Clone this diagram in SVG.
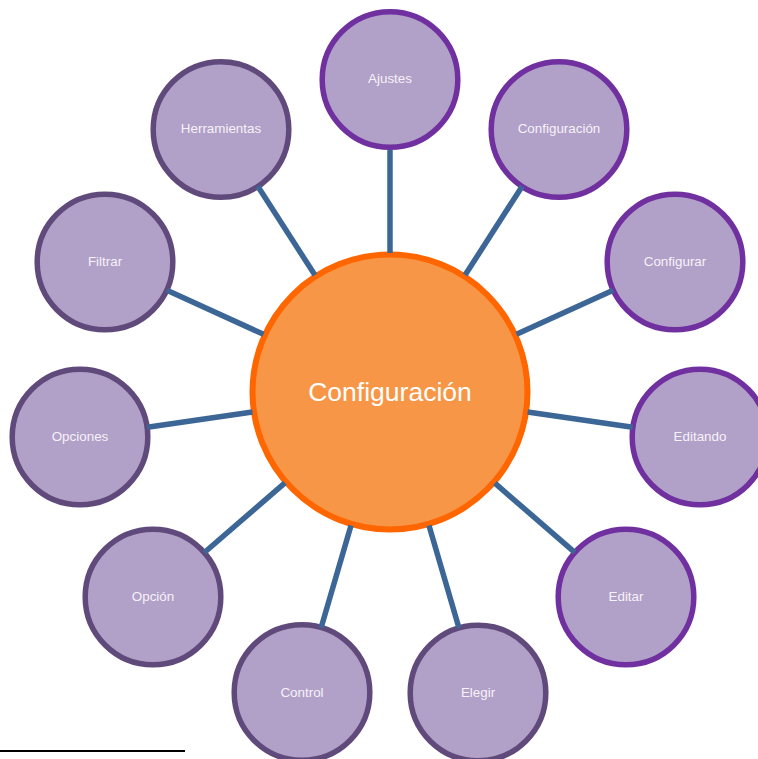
<svg xmlns="http://www.w3.org/2000/svg" width="758" height="759" viewBox="0 0 758 759">
<style>
text{font-family:"Liberation Sans",Arial,sans-serif;fill:#f6f2f9;text-anchor:middle}
.n circle{fill:#b1a0c7;stroke-width:5.5}
.n text{font-size:13.4px;font-weight:400}
.a circle{stroke:#7030a0}
.b circle{stroke:#604a7b}
#connectors line{stroke:#3b6696;stroke-width:5.5}
</style>
<rect width="758" height="759" fill="#fff"/>
<g id="node-center"><circle cx="390" cy="392" r="137.5" fill="#f79646" stroke="#ff6600" stroke-width="6"/><text x="390" y="401" style="font-size:26.5px;fill:#fff">Configuración</text></g>
<g id="node-ajustes" class="n a"><circle cx="390" cy="79.5" r="67.8"/><text x="390" y="83">Ajustes</text></g>
<g id="node-configuracion" class="n a"><circle cx="559" cy="129.5" r="67.8"/><text x="559" y="133">Configuración</text></g>
<g id="node-configurar" class="n a"><circle cx="675" cy="262" r="67.8"/><text x="675" y="266">Configurar</text></g>
<g id="node-editando" class="n a"><circle cx="700" cy="437" r="67.8"/><text x="700" y="441">Editando</text></g>
<g id="node-editar" class="n a"><circle cx="626" cy="597" r="67.8"/><text x="626" y="601">Editar</text></g>
<g id="node-elegir" class="n b"><circle cx="478" cy="693" r="67.8"/><text x="478" y="697">Elegir</text></g>
<g id="node-control" class="n b"><circle cx="302" cy="692.5" r="67.8"/><text x="302" y="697">Control</text></g>
<g id="node-opcion" class="n b"><circle cx="153" cy="597" r="67.8"/><text x="153" y="601">Opción</text></g>
<g id="node-opciones" class="n b"><circle cx="80" cy="437" r="67.8"/><text x="80" y="441">Opciones</text></g>
<g id="node-filtrar" class="n b"><circle cx="105" cy="262" r="67.8"/><text x="105" y="266">Filtrar</text></g>
<g id="node-herramientas" class="n b"><circle cx="221" cy="129.5" r="67.8"/><text x="221" y="133">Herramientas</text></g>
<g id="connectors">
<line x1="390" y1="253" x2="390" y2="150"/>
<line x1="465.1" y1="275.1" x2="522.2" y2="186.2"/>
<line x1="516.5" y1="334.3" x2="613.1" y2="290.2"/>
<line x1="527.6" y1="412" x2="632.7" y2="427.2"/>
<line x1="494.9" y1="483.2" x2="574.7" y2="552.4"/>
<line x1="429" y1="525.4" x2="458.9" y2="627.7"/>
<line x1="351" y1="525.4" x2="321.1" y2="627.7"/>
<line x1="284.9" y1="482.9" x2="204.4" y2="552.5"/>
<line x1="252.4" y1="412" x2="147.3" y2="427.2"/>
<line x1="263.5" y1="334.3" x2="166.9" y2="290.2"/>
<line x1="314.9" y1="275.1" x2="257.8" y2="186.2"/>
</g>
<line x1="0" y1="751" x2="185" y2="751" stroke="#000" stroke-width="2"/>
</svg>
